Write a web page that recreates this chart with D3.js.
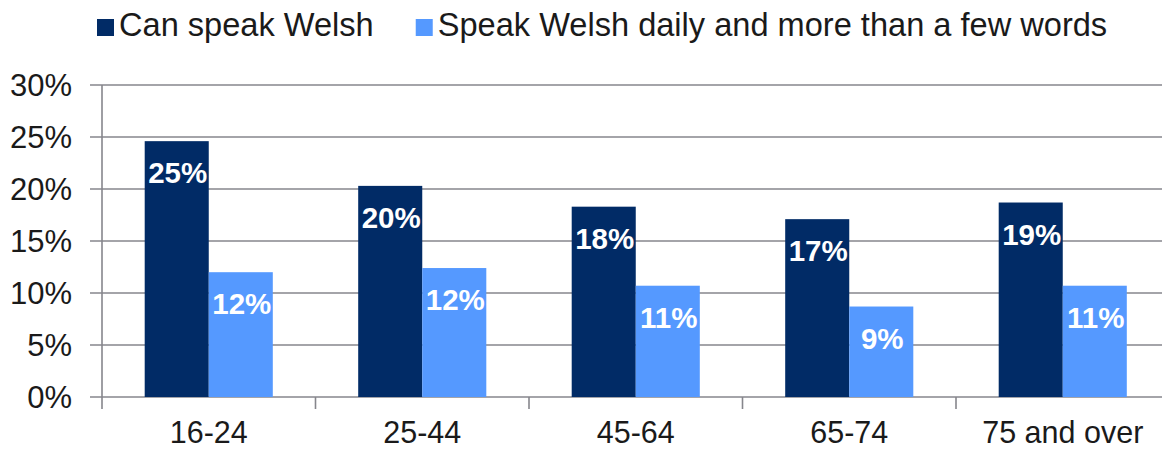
<!DOCTYPE html>
<html>
<head>
<meta charset="utf-8">
<script src="https://cdn.jsdelivr.net/npm/d3@7"></script>
<style>
  html, body { margin: 0; padding: 0; background: #fff; }
  svg { display: block; font-family: "Liberation Sans", Arial, Helvetica, sans-serif; }
</style>
</head>
<body>
<svg id="chart" width="1162" height="452"></svg>
<script>
// Welsh speakers by age group (percent)
const categories = ["16-24", "25-44", "45-64", "65-74", "75 and over"];
const seriesNames = ["Can speak Welsh", "Speak Welsh daily and more than a few words"];
const canSpeak = [24.6, 20.3, 18.3, 17.1, 18.7];
const dailySpeakers = [12.0, 12.4, 10.7, 8.7, 10.7];
const yTicks = [0, 5, 10, 15, 20, 25, 30];
const seriesColors = ["#012B66", "#5599FF"];

const W = 1162, H = 452;
const plot = { left: 102, top: 85, bottom: 397, right: 1169.5 };
const gridColor = "#86868c";

const svg = d3.select("#chart");

const x = d3.scaleBand()
  .domain(categories)
  .range([plot.left, plot.right])
  .paddingInner(0.4)
  .paddingOuter(0.2);

const xSeries = d3.scaleBand()
  .domain(d3.range(seriesNames.length))
  .range([0, x.bandwidth()]);

const y = d3.scaleLinear()
  .domain([0, 30])
  .range([plot.bottom, plot.top]);

// horizontal gridlines
svg.append("g").selectAll("line")
  .data(yTicks)
  .join("line")
  .attr("x1", plot.left - 12)
  .attr("x2", W)
  .attr("y1", d => y(d))
  .attr("y2", d => y(d))
  .attr("stroke", gridColor)
  .attr("stroke-width", 1.6);

// y axis labels
const yAxis = svg.append("g")
  .attr("transform", `translate(${plot.left},0)`)
  .call(d3.axisLeft(y).tickValues(yTicks).tickSize(12).tickPadding(18).tickFormat(d => d + "%"));
yAxis.select(".domain").remove();
yAxis.selectAll(".tick line").remove();
yAxis.selectAll("text")
  .attr("font-size", 31)
  .attr("font-family", "Liberation Sans, Arial, sans-serif")
  .attr("fill", "#1a1a1a")
  .attr("dy", "0.35em");

// vertical axis line
svg.append("line")
  .attr("x1", plot.left).attr("x2", plot.left)
  .attr("y1", y(30)).attr("y2", y(0) + 12)
  .attr("stroke", gridColor)
  .attr("stroke-width", 1.6);

// category boundary ticks
const boundaries = categories.slice(1).map(c => x(c) - x.step() * x.paddingInner() / 2);
svg.append("g").selectAll("line")
  .data(boundaries)
  .join("line")
  .attr("x1", d => d).attr("x2", d => d)
  .attr("y1", y(0)).attr("y2", y(0) + 12)
  .attr("stroke", gridColor)
  .attr("stroke-width", 1.6);

// x axis labels
const xAxis = svg.append("g")
  .attr("transform", `translate(0,${plot.bottom})`)
  .call(d3.axisBottom(x).tickSize(0).tickPadding(24));
xAxis.select(".domain").remove();
xAxis.selectAll("text")
  .attr("font-size", 30.5)
  .attr("font-family", "Liberation Sans, Arial, sans-serif")
  .attr("fill", "#1a1a1a");

// bars
const series = [canSpeak, dailySpeakers];
const fmt = d3.format(".0f");
series.forEach((values, si) => {
  const g = svg.append("g");
  const data = categories.map((c, i) => ({ c, v: values[i] }));
  g.selectAll("rect")
    .data(data)
    .join("rect")
    .attr("x", d => x(d.c) + xSeries(si))
    .attr("y", d => y(d.v))
    .attr("width", xSeries.bandwidth())
    .attr("height", d => y(0) - y(d.v))
    .attr("fill", seriesColors[si]);
  g.selectAll("text")
    .data(data)
    .join("text")
    .attr("x", d => x(d.c) + xSeries(si) + xSeries.bandwidth() / 2 + 1)
    .attr("y", d => y(d.v) + 42)
    .attr("text-anchor", "middle")
    .attr("font-size", 29.5)
    .attr("font-weight", "bold")
    .attr("fill", "#ffffff")
    .text(d => fmt(d.v) + "%");
});

// legend
const legend = svg.append("g");
let lx = 97;
seriesNames.forEach((name, i) => {
  legend.append("rect")
    .attr("x", lx).attr("y", 19)
    .attr("width", 17).attr("height", 17)
    .attr("fill", seriesColors[i]);
  const t = legend.append("text")
    .attr("x", lx + 22)
    .attr("y", 36)
    .attr("font-size", 32.6)
    .attr("fill", "#1a1a1a")
    .text(name);
  lx += 22 + t.node().getComputedTextLength() + 42;
});
</script>
</body>
</html>
